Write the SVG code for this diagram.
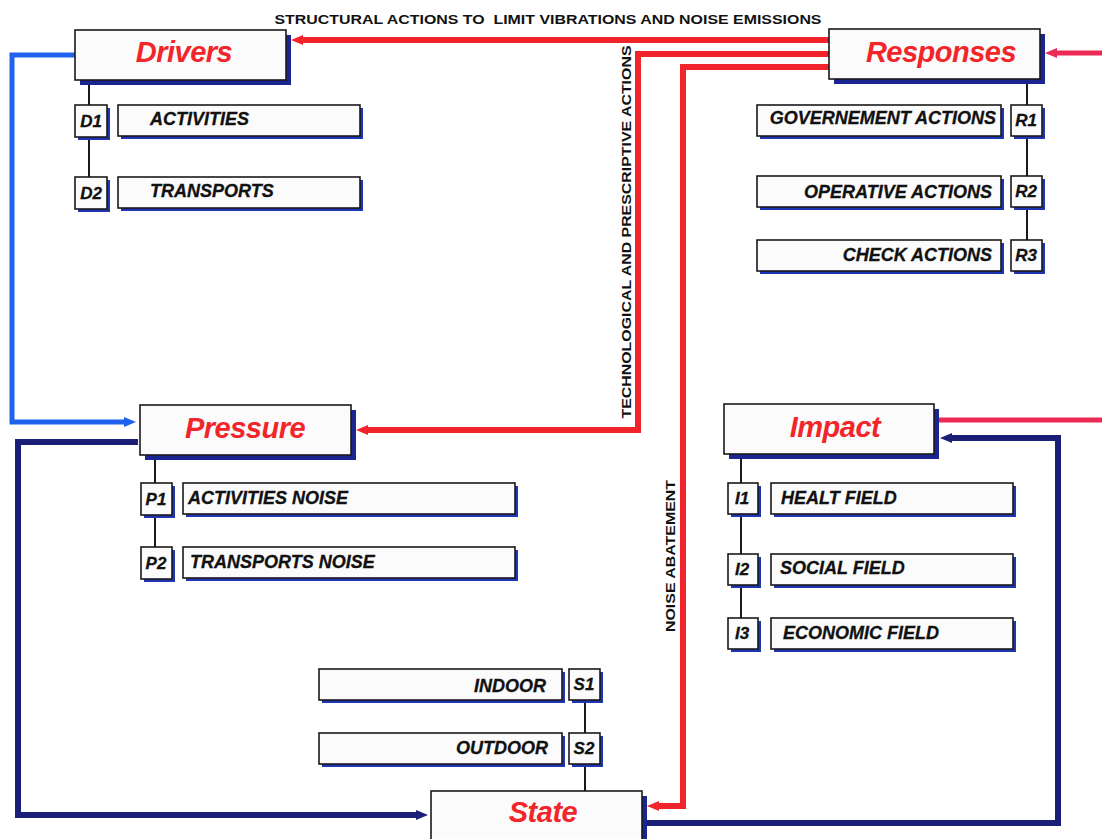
<svg xmlns="http://www.w3.org/2000/svg" width="1102" height="839" viewBox="0 0 1102 839">
<style>
.box{fill:#fbfbfb;stroke:#1a1a1a;stroke-width:1.6}
.sh{fill:#1b2590}
.ssh{fill:#1e36b4}
.title{font-family:"Liberation Sans",Arial,sans-serif;font-weight:bold;font-style:italic;font-size:29px;fill:#f2262a;text-anchor:middle;letter-spacing:-0.5px}
.lbl{font-family:"Liberation Sans",Arial,sans-serif;font-weight:bold;font-style:italic;font-size:18px;fill:#111;stroke:#111;stroke-width:0.3}
.code{font-family:"Liberation Sans",Arial,sans-serif;font-weight:bold;font-style:italic;font-size:17px;fill:#111;text-anchor:middle;stroke:#111;stroke-width:0.3}
.cap{font-family:"Liberation Sans",Arial,sans-serif;font-weight:bold;font-size:13.5px;fill:#111}
.tie{stroke:#1a1a1a;stroke-width:2;fill:none}
.c{fill:none;stroke-linejoin:miter}
</style>
<defs>
<marker id="aRed" viewBox="0 0 12 10" refX="0" refY="5" markerWidth="12" markerHeight="10" markerUnits="userSpaceOnUse" orient="auto"><path d="M0,0 L12,5 L0,10 z" fill="#f0242a"/></marker>
<marker id="aBlue" viewBox="0 0 12 10" refX="0" refY="5" markerWidth="12" markerHeight="10" markerUnits="userSpaceOnUse" orient="auto"><path d="M0,0 L12,5 L0,10 z" fill="#1f62ee"/></marker>
<marker id="aNavy" viewBox="0 0 12 10" refX="0" refY="5" markerWidth="12" markerHeight="10" markerUnits="userSpaceOnUse" orient="auto"><path d="M0,0 L12,5 L0,10 z" fill="#1b1f78"/></marker>
<marker id="aPink" viewBox="0 0 12 10" refX="0" refY="5" markerWidth="12" markerHeight="10" markerUnits="userSpaceOnUse" orient="auto"><path d="M0,0 L12,5 L0,10 z" fill="#ec2a55"/></marker>
</defs>
<rect width="1102" height="839" fill="#ffffff"/>

<g id="connectors">
<path class="c" d="M75,55 H12 V422 H124" stroke="#1f62ee" stroke-width="5" marker-end="url(#aBlue)"/>
<path class="c" d="M829,40 H303" stroke="#f0242a" stroke-width="6" marker-end="url(#aRed)"/>
<path class="c" d="M829,54 H638 V430 H368" stroke="#f0242a" stroke-width="6" marker-end="url(#aRed)"/>
<path class="c" d="M829,67 H683 V806 H659" stroke="#f0242a" stroke-width="6" marker-end="url(#aRed)"/>
<path class="c" d="M138,442 H18 V815 H416" stroke="#1b1f78" stroke-width="6" marker-end="url(#aNavy)"/>
<path class="c" d="M645,823 H1058 V438 H952" stroke="#1b1f78" stroke-width="6" marker-end="url(#aNavy)"/>
<path class="c" d="M1102,53 H1057" stroke="#ec2a55" stroke-width="5" marker-end="url(#aPink)"/>
<path class="c" d="M938,420 H1102" stroke="#ec2a55" stroke-width="5"/>
<path class="tie" d="M89,84 V105 M89,137 V177"/>
<path class="tie" d="M155,459 V483 M155,515 V547"/>
<path class="tie" d="M1027,83 V105 M1027,136 V176 M1027,207 V240"/>
<path class="tie" d="M741,458 V483 M741,514 V554 M741,585 V618"/>
<path class="tie" d="M585,700 V733 M585,764 V791"/>
<text class="cap" x="548" y="24" text-anchor="middle" textLength="547" lengthAdjust="spacingAndGlyphs" xml:space="preserve">STRUCTURAL ACTIONS TO  LIMIT VIBRATIONS AND NOISE EMISSIONS</text>
<text class="cap" transform="translate(631,232) rotate(-90)" text-anchor="middle" textLength="373" lengthAdjust="spacingAndGlyphs">TECHNOLOGICAL AND PRESCRIPTIVE ACTIONS</text>
<text class="cap" transform="translate(675,556) rotate(-90)" text-anchor="middle" textLength="152" lengthAdjust="spacingAndGlyphs">NOISE ABATEMENT</text>
</g>

<g id="drivers">
<rect class="sh" x="80" y="35" width="211" height="50"/>
<rect class="box" x="75" y="30" width="211" height="50"/>
<text class="title" x="184" y="62">Drivers</text>
</g>
<g id="d1">
<rect class="ssh" x="78" y="108" width="32" height="32"/><rect class="box" x="75" y="105" width="32" height="32"/>
<text class="code" x="91" y="127">D1</text>
<rect class="ssh" x="121" y="108" width="242" height="31"/><rect class="box" x="118" y="105" width="242" height="31"/>
<text class="lbl" x="150" y="125">ACTIVITIES</text>
</g>
<g id="d2">
<rect class="ssh" x="78" y="180" width="32" height="32"/><rect class="box" x="75" y="177" width="32" height="32"/>
<text class="code" x="91" y="199">D2</text>
<rect class="ssh" x="121" y="180" width="242" height="31"/><rect class="box" x="118" y="177" width="242" height="31"/>
<text class="lbl" x="150" y="197">TRANSPORTS</text>
</g>

<g id="responses">
<rect class="sh" x="834" y="34" width="211" height="50"/>
<rect class="box" x="829" y="29" width="211" height="50"/>
<text class="title" x="941" y="62">Responses</text>
</g>
<g id="r1">
<rect class="ssh" x="760" y="108" width="244" height="31"/><rect class="box" x="757" y="105" width="244" height="31"/>
<text class="lbl" x="996" y="124" text-anchor="end">GOVERNEMENT ACTIONS</text>
<rect class="ssh" x="1014" y="108" width="31" height="31"/><rect class="box" x="1011" y="105" width="31" height="31"/>
<text class="code" x="1026" y="126">R1</text>
</g>
<g id="r2">
<rect class="ssh" x="760" y="179" width="244" height="31"/><rect class="box" x="757" y="176" width="244" height="31"/>
<text class="lbl" x="992" y="198" text-anchor="end">OPERATIVE ACTIONS</text>
<rect class="ssh" x="1014" y="179" width="31" height="31"/><rect class="box" x="1011" y="176" width="31" height="31"/>
<text class="code" x="1026" y="197">R2</text>
</g>
<g id="r3">
<rect class="ssh" x="760" y="243" width="244" height="31"/><rect class="box" x="757" y="240" width="244" height="31"/>
<text class="lbl" x="992" y="261" text-anchor="end">CHECK ACTIONS</text>
<rect class="ssh" x="1014" y="243" width="31" height="31"/><rect class="box" x="1011" y="240" width="31" height="31"/>
<text class="code" x="1026" y="261">R3</text>
</g>

<g id="pressure">
<rect class="sh" x="145" y="410" width="211" height="50"/>
<rect class="box" x="140" y="405" width="211" height="50"/>
<text class="title" x="245" y="438">Pressure</text>
</g>
<g id="p1">
<rect class="ssh" x="144" y="486" width="31" height="32"/><rect class="box" x="141" y="483" width="31" height="32"/>
<text class="code" x="156" y="505">P1</text>
<rect class="ssh" x="186" y="486" width="332" height="31"/><rect class="box" x="183" y="483" width="332" height="31"/>
<text class="lbl" x="188" y="504">ACTIVITIES NOISE</text>
</g>
<g id="p2">
<rect class="ssh" x="144" y="550" width="31" height="32"/><rect class="box" x="141" y="547" width="31" height="32"/>
<text class="code" x="156" y="569">P2</text>
<rect class="ssh" x="186" y="550" width="332" height="31"/><rect class="box" x="183" y="547" width="332" height="31"/>
<text class="lbl" x="190" y="568">TRANSPORTS NOISE</text>
</g>

<g id="impact">
<rect class="sh" x="729" y="409" width="210" height="50"/>
<rect class="box" x="724" y="404" width="210" height="50"/>
<text class="title" x="835" y="437">Impact</text>
</g>
<g id="i1">
<rect class="ssh" x="731" y="486" width="30" height="31"/><rect class="box" x="728" y="483" width="30" height="31"/>
<text class="code" x="742" y="504">I1</text>
<rect class="ssh" x="774" y="486" width="242" height="31"/><rect class="box" x="771" y="483" width="242" height="31"/>
<text class="lbl" x="781" y="504">HEALT FIELD</text>
</g>
<g id="i2">
<rect class="ssh" x="731" y="557" width="30" height="31"/><rect class="box" x="728" y="554" width="30" height="31"/>
<text class="code" x="742" y="575">I2</text>
<rect class="ssh" x="774" y="557" width="242" height="31"/><rect class="box" x="771" y="554" width="242" height="31"/>
<text class="lbl" x="780" y="574">SOCIAL FIELD</text>
</g>
<g id="i3">
<rect class="ssh" x="731" y="621" width="30" height="31"/><rect class="box" x="728" y="618" width="30" height="31"/>
<text class="code" x="742" y="639">I3</text>
<rect class="ssh" x="774" y="621" width="242" height="31"/><rect class="box" x="771" y="618" width="242" height="31"/>
<text class="lbl" x="783" y="639">ECONOMIC FIELD</text>
</g>

<g id="s1">
<rect class="ssh" x="322" y="672" width="243" height="31"/><rect class="box" x="319" y="669" width="243" height="31"/>
<text class="lbl" x="546" y="692" text-anchor="end">INDOOR</text>
<rect class="ssh" x="572" y="672" width="31" height="31"/><rect class="box" x="569" y="669" width="31" height="31"/>
<text class="code" x="584" y="690">S1</text>
</g>
<g id="s2">
<rect class="ssh" x="322" y="736" width="243" height="31"/><rect class="box" x="319" y="733" width="243" height="31"/>
<text class="lbl" x="548" y="754" text-anchor="end">OUTDOOR</text>
<rect class="ssh" x="572" y="736" width="31" height="31"/><rect class="box" x="569" y="733" width="31" height="31"/>
<text class="code" x="584" y="754">S2</text>
</g>
<g id="state">
<rect class="sh" x="436" y="796" width="211" height="60"/>
<rect class="box" x="431" y="791" width="211" height="60"/>
<text class="title" x="543" y="822">State</text>
</g>
</svg>
